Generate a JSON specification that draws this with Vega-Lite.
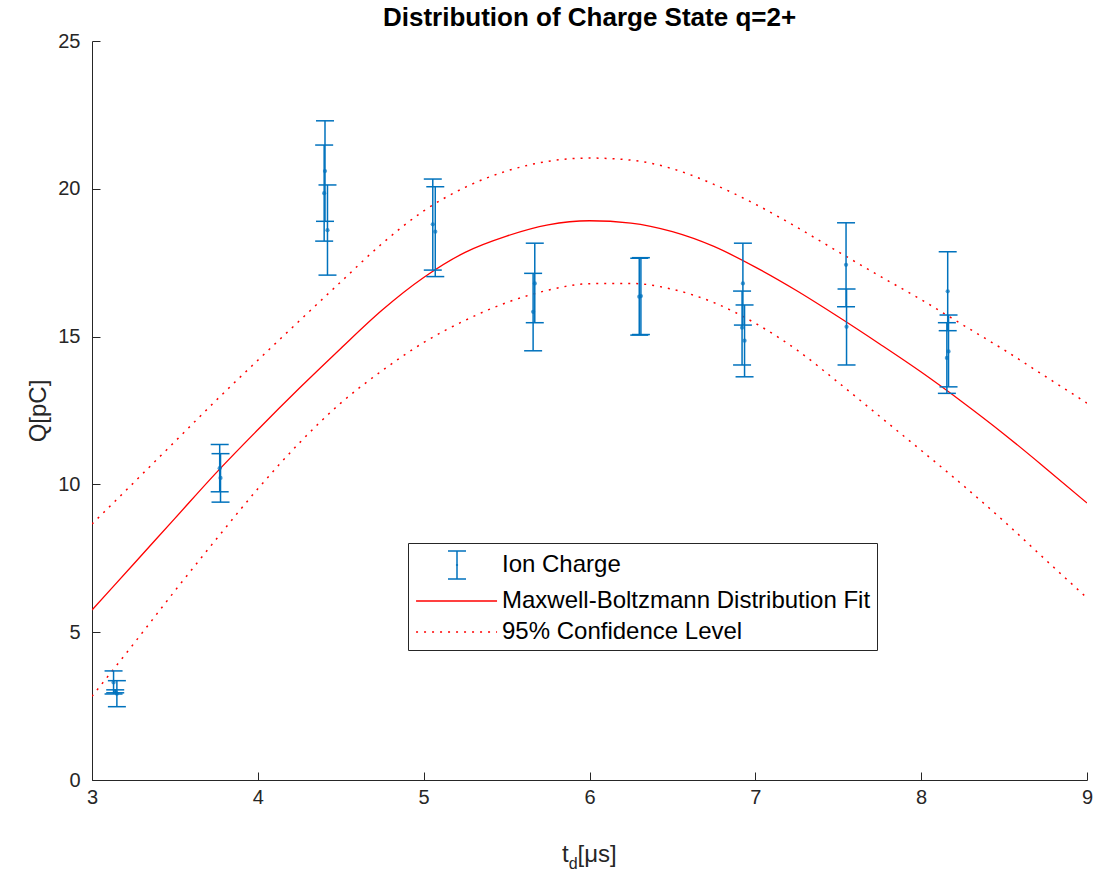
{
  "$schema": "https://vega.github.io/schema/vega-lite/v6.json",
  "width": 995,
  "height": 739,
  "autosize": {"type": "none"},
  "padding": {"left": 92, "top": 41, "right": 12, "bottom": 100},
  "background": "white",
  "title": {"text": "Distribution of Charge State q=2+", "font": "Liberation Sans", "fontSize": 26, "fontWeight": "bold", "color": "#000000", "anchor": "middle", "offset": 0},
  "config": {
    "view": {"stroke": null},
    "axis": {"grid": false, "domainColor": "#262626", "tickColor": "#262626", "labelColor": "#262626", "titleColor": "#262626", "labelFont": "Liberation Sans", "titleFont": "Liberation Sans", "labelFontSize": 20, "titleFontSize": 24, "titleFontWeight": "normal", "tickSize": -8, "domainWidth": 1, "tickWidth": 1, "labelFlush": false}
  },
  "datasets": {
    "meas": [
      {"t": 3.13, "Q": 3.3, "lo": 2.91, "hi": 3.69, "series": "Ion Charge"},
      {"t": 3.14, "Q": 3.0, "lo": 2.95, "hi": 3.05, "series": "Ion Charge"},
      {"t": 3.15, "Q": 2.92, "lo": 2.48, "hi": 3.36, "series": "Ion Charge"},
      {"t": 3.77, "Q": 10.55, "lo": 9.75, "hi": 11.35, "series": "Ion Charge"},
      {"t": 3.775, "Q": 10.22, "lo": 9.4, "hi": 11.04, "series": "Ion Charge"},
      {"t": 4.405, "Q": 20.6, "lo": 18.9, "hi": 22.3, "series": "Ion Charge"},
      {"t": 4.4, "Q": 19.85, "lo": 18.23, "hi": 21.48, "series": "Ion Charge"},
      {"t": 4.42, "Q": 18.6, "lo": 17.08, "hi": 20.13, "series": "Ion Charge"},
      {"t": 5.055, "Q": 18.8, "lo": 17.25, "hi": 20.33, "series": "Ion Charge"},
      {"t": 5.07, "Q": 18.55, "lo": 17.03, "hi": 20.07, "series": "Ion Charge"},
      {"t": 5.67, "Q": 16.8, "lo": 15.47, "hi": 18.16, "series": "Ion Charge"},
      {"t": 5.66, "Q": 15.84, "lo": 14.52, "hi": 17.14, "series": "Ion Charge"},
      {"t": 6.3, "Q": 16.35, "lo": 15.05, "hi": 17.65, "series": "Ion Charge"},
      {"t": 6.31, "Q": 16.37, "lo": 15.07, "hi": 17.67, "series": "Ion Charge"},
      {"t": 6.925, "Q": 16.8, "lo": 15.39, "hi": 18.16, "series": "Ion Charge"},
      {"t": 6.92, "Q": 15.3, "lo": 14.04, "hi": 16.54, "series": "Ion Charge"},
      {"t": 6.935, "Q": 14.86, "lo": 13.64, "hi": 16.07, "series": "Ion Charge"},
      {"t": 7.547, "Q": 17.43, "lo": 16.01, "hi": 18.85, "series": "Ion Charge"},
      {"t": 7.55, "Q": 15.33, "lo": 14.04, "hi": 16.61, "series": "Ion Charge"},
      {"t": 8.16, "Q": 16.53, "lo": 15.2, "hi": 17.87, "series": "Ion Charge"},
      {"t": 8.165, "Q": 14.5, "lo": 13.3, "hi": 15.73, "series": "Ion Charge"},
      {"t": 8.155, "Q": 14.28, "lo": 13.08, "hi": 15.47, "series": "Ion Charge"}
    ],
    "fit": [
      {"t": 3.0, "Q": 5.75}, {"t": 3.25, "Q": 7.3}, {"t": 3.5, "Q": 8.85}, {"t": 3.75, "Q": 10.4},
      {"t": 4.0, "Q": 11.85}, {"t": 4.25, "Q": 13.25}, {"t": 4.5, "Q": 14.6}, {"t": 4.75, "Q": 15.9},
      {"t": 5.0, "Q": 17.0}, {"t": 5.25, "Q": 17.85}, {"t": 5.5, "Q": 18.4}, {"t": 5.75, "Q": 18.78},
      {"t": 6.0, "Q": 18.92}, {"t": 6.25, "Q": 18.84}, {"t": 6.5, "Q": 18.55}, {"t": 6.75, "Q": 18.05},
      {"t": 7.0, "Q": 17.35}, {"t": 7.25, "Q": 16.55}, {"t": 7.5, "Q": 15.67}, {"t": 7.75, "Q": 14.75},
      {"t": 8.0, "Q": 13.8}, {"t": 8.25, "Q": 12.78}, {"t": 8.5, "Q": 11.7}, {"t": 8.75, "Q": 10.55},
      {"t": 9.0, "Q": 9.37}
    ],
    "conf": [
      {"t": 3.0, "Q": 8.66, "band": "upper"}, {"t": 3.25, "Q": 10.05, "band": "upper"}, {"t": 3.5, "Q": 11.45, "band": "upper"},
      {"t": 3.75, "Q": 12.85, "band": "upper"}, {"t": 4.0, "Q": 14.2, "band": "upper"}, {"t": 4.25, "Q": 15.53, "band": "upper"},
      {"t": 4.5, "Q": 16.85, "band": "upper"}, {"t": 4.75, "Q": 18.15, "band": "upper"}, {"t": 5.0, "Q": 19.25, "band": "upper"},
      {"t": 5.25, "Q": 20.05, "band": "upper"}, {"t": 5.5, "Q": 20.6, "band": "upper"}, {"t": 5.75, "Q": 20.93, "band": "upper"},
      {"t": 6.0, "Q": 21.04, "band": "upper"}, {"t": 6.25, "Q": 20.97, "band": "upper"}, {"t": 6.5, "Q": 20.68, "band": "upper"},
      {"t": 6.75, "Q": 20.15, "band": "upper"}, {"t": 7.0, "Q": 19.48, "band": "upper"}, {"t": 7.25, "Q": 18.7, "band": "upper"},
      {"t": 7.5, "Q": 17.87, "band": "upper"}, {"t": 7.75, "Q": 17.05, "band": "upper"}, {"t": 8.0, "Q": 16.25, "band": "upper"},
      {"t": 8.25, "Q": 15.4, "band": "upper"}, {"t": 8.5, "Q": 14.55, "band": "upper"}, {"t": 8.75, "Q": 13.65, "band": "upper"},
      {"t": 9.0, "Q": 12.75, "band": "upper"},
      {"t": 3.0, "Q": 2.83, "band": "lower"}, {"t": 3.25, "Q": 4.6, "band": "lower"}, {"t": 3.5, "Q": 6.4, "band": "lower"},
      {"t": 3.75, "Q": 8.15, "band": "lower"}, {"t": 4.0, "Q": 9.85, "band": "lower"}, {"t": 4.25, "Q": 11.4, "band": "lower"},
      {"t": 4.5, "Q": 12.75, "band": "lower"}, {"t": 4.75, "Q": 13.85, "band": "lower"}, {"t": 5.0, "Q": 14.8, "band": "lower"},
      {"t": 5.25, "Q": 15.55, "band": "lower"}, {"t": 5.5, "Q": 16.15, "band": "lower"}, {"t": 5.75, "Q": 16.57, "band": "lower"},
      {"t": 6.0, "Q": 16.79, "band": "lower"}, {"t": 6.25, "Q": 16.8, "band": "lower"}, {"t": 6.5, "Q": 16.6, "band": "lower"},
      {"t": 6.75, "Q": 16.15, "band": "lower"}, {"t": 7.0, "Q": 15.45, "band": "lower"}, {"t": 7.25, "Q": 14.55, "band": "lower"},
      {"t": 7.5, "Q": 13.45, "band": "lower"}, {"t": 7.75, "Q": 12.3, "band": "lower"}, {"t": 8.0, "Q": 11.15, "band": "lower"},
      {"t": 8.25, "Q": 9.98, "band": "lower"}, {"t": 8.5, "Q": 8.75, "band": "lower"}, {"t": 8.75, "Q": 7.45, "band": "lower"},
      {"t": 9.0, "Q": 6.16, "band": "lower"}
    ],
    "xtitle": [
      {"part": "t", "pos": 6, "lvl": -2.77},
      {"part": "d", "pos": 6, "lvl": -3.0},
      {"part": "[μs]", "pos": 6, "lvl": -2.77}
    ]
  },
  "encoding": {
    "x": {"field": "t", "type": "quantitative", "scale": {"domain": [3, 9], "nice": false, "zero": false},
      "axis": {"values": [3, 4, 5, 6, 7, 8, 9], "title": null, "labelPadding": 15}},
    "y": {"field": "Q", "type": "quantitative", "scale": {"domain": [0, 25], "nice": false},
      "axis": {"values": [0, 5, 10, 15, 20, 25], "title": "Q[pC]", "labelPadding": 20, "titlePadding": 7}}
  },
  "layer": [
    {
      "data": {"name": "conf"},
      "transform": [{"calculate": "'95% Confidence Level'", "as": "series"}],
      "mark": {"type": "line", "strokeWidth": 1.5, "strokeDash": [2, 6], "clip": true, "interpolate": "monotone"},
      "encoding": {
        "detail": {"field": "band"},
        "color": {"field": "series", "type": "nominal",
          "scale": {"domain": ["Ion Charge", "Maxwell-Boltzmann Distribution Fit", "95% Confidence Level"], "range": ["#0072BD", "#FF0000", "#FF0000"]},
          "legend": {
            "orient": "none", "legendX": 316, "legendY": 502, "title": null,
            "symbolSize": 900, "symbolStrokeWidth": 1.5, "labelOffset": 56, "labelLimit": 800,
            "labelFont": "Liberation Sans", "labelFontSize": 24, "labelColor": "#000000",
            "strokeColor": "#262626", "fillColor": "#ffffff", "padding": 6, "rowPadding": 3, "cornerRadius": 0,
            "encode": {"symbols": {"update": {
              "shape": {"signal": "datum.value === 'Ion Charge' ? 'M1.2,-0.93H2.4M1.8,-0.93V0.93M1.2,0.93H2.4M1.73,0H1.87' : 'M-0.93,0H4.47'"},
              "strokeDash": {"signal": "datum.value === '95% Confidence Level' ? [2, 6] : []"},
              "fill": {"value": "transparent"},
              "strokeWidth": {"value": 1.5},
              "opacity": {"value": 1}
            }}}
          }}
      }
    },
    {
      "data": {"name": "fit"},
      "transform": [{"calculate": "'Maxwell-Boltzmann Distribution Fit'", "as": "series"}],
      "mark": {"type": "line", "strokeWidth": 1.3, "clip": true, "interpolate": "monotone"},
      "encoding": {"color": {"field": "series", "type": "nominal"}}
    },
    {
      "data": {"name": "meas"},
      "mark": {"type": "rule", "strokeWidth": 1.5},
      "encoding": {"y": {"field": "lo", "type": "quantitative"}, "y2": {"field": "hi"}, "color": {"field": "series", "type": "nominal"}}
    },
    {
      "data": {"name": "meas"},
      "mark": {"type": "tick", "orient": "horizontal", "size": 18, "thickness": 1.5, "opacity": 1},
      "encoding": {"y": {"field": "lo", "type": "quantitative"}, "color": {"field": "series", "type": "nominal"}}
    },
    {
      "data": {"name": "meas"},
      "mark": {"type": "tick", "orient": "horizontal", "size": 18, "thickness": 1.5, "opacity": 1},
      "encoding": {"y": {"field": "hi", "type": "quantitative"}, "color": {"field": "series", "type": "nominal"}}
    },
    {
      "data": {"name": "meas"},
      "mark": {"type": "circle", "size": 18, "opacity": 0.7},
      "encoding": {"color": {"field": "series", "type": "nominal"}}
    },
    {
      "data": {"name": "xtitle"},
      "transform": [{"filter": "datum.part === 't'"}],
      "mark": {"type": "text", "font": "Liberation Sans", "fontSize": 24, "fill": "#262626", "align": "left", "baseline": "alphabetic", "dx": -27.5, "clip": false},
      "encoding": {"x": {"field": "pos", "type": "quantitative"}, "y": {"field": "lvl", "type": "quantitative"}, "text": {"field": "part"}}
    },
    {
      "data": {"name": "xtitle"},
      "transform": [{"filter": "datum.part === 'd'"}],
      "mark": {"type": "text", "font": "Liberation Sans", "fontSize": 16, "fill": "#262626", "align": "left", "baseline": "alphabetic", "dx": -20.8, "clip": false},
      "encoding": {"x": {"field": "pos", "type": "quantitative"}, "y": {"field": "lvl", "type": "quantitative"}, "text": {"field": "part"}}
    },
    {
      "data": {"name": "xtitle"},
      "transform": [{"filter": "datum.part === '[μs]'"}],
      "mark": {"type": "text", "font": "Liberation Sans", "fontSize": 24, "fill": "#262626", "align": "left", "baseline": "alphabetic", "dx": -12, "clip": false},
      "encoding": {"x": {"field": "pos", "type": "quantitative"}, "y": {"field": "lvl", "type": "quantitative"}, "text": {"field": "part"}}
    }
  ]
}
